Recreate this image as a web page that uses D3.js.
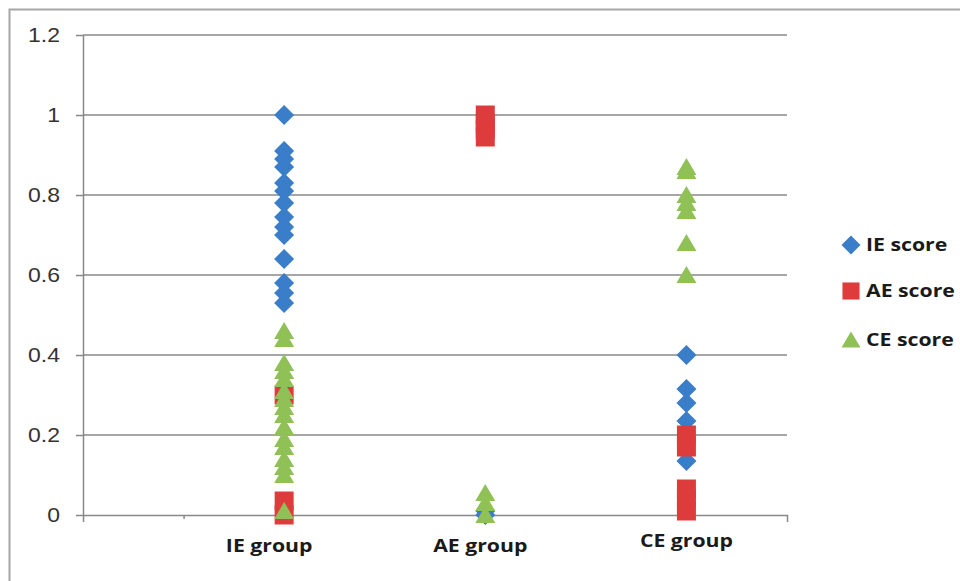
<!DOCTYPE html>
<html>
<head>
<meta charset="utf-8">
<script src="https://cdn.jsdelivr.net/npm/d3@7"></script>
<style>
  body { margin: 0; background: #fff; }
  .grid line { stroke: #888; stroke-width: 1.5; }
  .axis path, .axis line { stroke: #888; stroke-width: 1.5; }
  .axis text { font-family: "Liberation Sans", Arial, sans-serif; font-size: 20px; fill: #333; }
  .cat { font-family: "Open Sans", sans-serif; font-weight: 700; font-size: 18px; fill: #1a1a1a; }
  .legend text { font-family: "Open Sans", sans-serif; font-weight: 700; font-size: 18px; fill: #1a1a1a; }
</style>
</head>
<body>
<div id="graph"></div>
<script>
// categories and tick labels
var groups = ["IE group", "AE group", "CE group"];
var yTicks = [0, 0.2, 0.4, 0.6, 0.8, 1, 1.2];
var seriesNames = ["IE score", "AE score", "CE score"];

// IE score, per group
var ieScoreIE = [1.0, 0.91, 0.89, 0.87, 0.83, 0.81, 0.78, 0.745, 0.72, 0.70, 0.64, 0.58, 0.555, 0.53];
var ieScoreAE = [0.01, 0.0];
var ieScoreCE = [0.40, 0.315, 0.28, 0.235, 0.135];

// AE score, per group
var aeScoreIE = [0.30, 0.035, 0.0];
var aeScoreAE = [1.0, 0.98, 0.965, 0.945];
var aeScoreCE = [0.20, 0.17, 0.065, 0.04, 0.01];

// CE score, per group
var ceScoreIE = [0.46, 0.44, 0.38, 0.36, 0.34, 0.31, 0.29, 0.27, 0.25, 0.22, 0.19, 0.17, 0.14, 0.12, 0.10, 0.01];
var ceScoreAE = [0.055, 0.03, 0.0];
var ceScoreCE = [0.87, 0.86, 0.80, 0.78, 0.76, 0.68, 0.60];

var colors = ["#3a7dc9", "#de3c3c", "#8fc156"];

// marker shapes (Excel style)
var shapes = [
  function(s) { return "M0," + (-s) + "L" + s + ",0L0," + s + "L" + (-s) + ",0Z"; },
  function(s) { var h = s * 0.95; return "M" + (-h) + "," + (-h) + "H" + h + "V" + h + "H" + (-h) + "Z"; },
  function(s) { return "M0," + (-s * 0.9) + "L" + s + "," + (s * 0.8) + "L" + (-s) + "," + (s * 0.8) + "Z"; }
];

// the picture is a bit stretched sideways, so text gets widened too
var stretch = 1.18;

var width = 960, height = 581;
var svg = d3.select("#graph").append("svg")
    .attr("width", width)
    .attr("height", height);

// chart frame
svg.append("rect")
    .attr("x", 9.5).attr("y", 9.5)
    .attr("width", 980).attr("height", 600)
    .attr("fill", "none")
    .attr("stroke", "#a6a6a6")
    .attr("stroke-width", 2);

var x = d3.scaleLinear().domain([0, 3.5]).range([83, 787]);
var y = d3.scaleLinear().domain([0, 1.2]).range([515, 35]);

// horizontal gridlines
svg.append("g")
    .attr("class", "grid")
  .selectAll("line")
  .data(yTicks.slice(1))
  .enter().append("line")
    .attr("x1", x(0)).attr("x2", x(3.5))
    .attr("y1", function(d) { return y(d); })
    .attr("y2", function(d) { return y(d); });

// y axis
var yAxis = svg.append("g")
    .attr("class", "axis")
    .attr("transform", "translate(" + x(0) + ",0)")
    .call(d3.axisLeft(y).tickValues(yTicks).tickSize(7).tickSizeOuter(0)
      .tickFormat(function(d) { return d3.format("")(+d.toFixed(1)); }));
yAxis.selectAll("text")
    .attr("x", 0)
    .attr("transform", "translate(-23,0) scale(1.15,1)");

// x axis
svg.append("g")
    .attr("class", "axis")
    .attr("transform", "translate(0," + y(0) + ")")
    .call(d3.axisBottom(x).tickValues([0.5]).tickSize(4).tickSizeOuter(7).tickFormat(""));

// category labels (text boxes under each group)
var labelShift = [-15, -5, 0], labelBase = [552, 552, 547];
svg.selectAll(".cat")
  .data(groups)
  .enter().append("text")
    .attr("class", "cat")
    .attr("text-anchor", "middle")
    .attr("transform", function(d, i) {
      return "translate(" + (x(i + 1) + labelShift[i]) + "," + labelBase[i] + ") scale(" + stretch + ",1)";
    })
    .text(function(d) { return d; });

// points: drawn series by series so green sits on top
var series = [
  [ieScoreIE, ieScoreAE, ieScoreCE],
  [aeScoreIE, aeScoreAE, aeScoreCE],
  [ceScoreIE, ceScoreAE, ceScoreCE]
];

series.forEach(function(byGroup, s) {
  var pts = [];
  byGroup.forEach(function(vals, g) {
    vals.forEach(function(v) { pts.push([g + 1, v]); });
  });
  svg.append("g").selectAll("path")
    .data(pts)
    .enter().append("path")
      .attr("d", shapes[s](10))
      .attr("fill", colors[s])
      .attr("transform", function(d) { return "translate(" + x(d[0]) + "," + y(d[1]) + ")"; });
});

// legend
var legend = svg.append("g").attr("class", "legend");
var legendY = [245, 291, 340];
seriesNames.forEach(function(name, i) {
  legend.append("path")
    .attr("d", shapes[i](i === 1 ? 9 : 9.5))
    .attr("fill", colors[i])
    .attr("transform", "translate(851," + legendY[i] + ")");
  legend.append("text")
    .attr("transform", "translate(866," + (legendY[i] + 6) + ") scale(" + stretch + ",1)")
    .text(name);
});
</script>
</body>
</html>
